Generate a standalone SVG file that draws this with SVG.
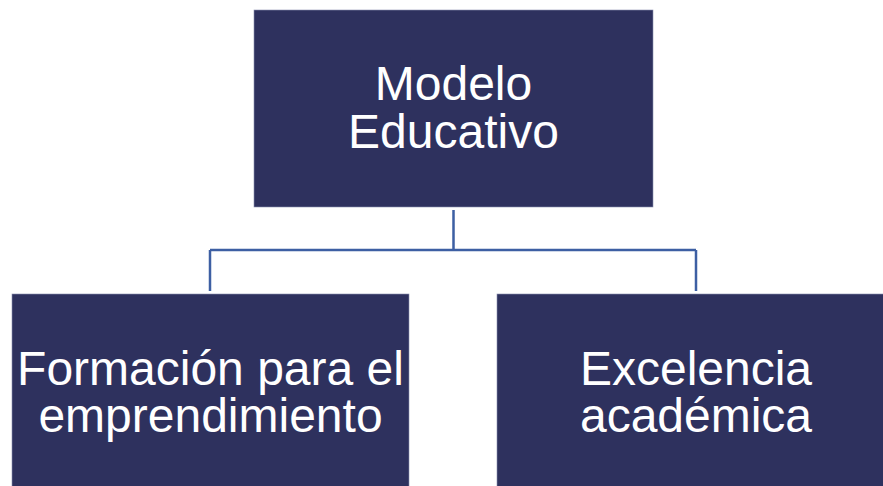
<svg xmlns="http://www.w3.org/2000/svg" width="883" height="486" viewBox="0 0 883 486">
<style>
.box{fill:#2E315E;stroke:#8A8FB0;stroke-width:0.6}
.lbl{fill:#FFFFFF;font-family:"Liberation Sans",Arial,sans-serif;font-size:48px;text-anchor:middle}
.conn{fill:none;stroke:#3D5FA3;stroke-width:2.5}
</style>
<rect width="883" height="486" fill="#FFFFFF"/>
<g id="connectors">
<path class="conn" d="M453.5,210 V250 M210,250 H696 M210,250 V291 M696,250 V291"/>
</g>
<g id="node-modelo">
<rect class="box" x="254" y="10" width="399" height="197"/>
<text class="lbl" x="453.5" y="100">Modelo</text>
<text class="lbl" x="453.5" y="148">Educativo</text>
</g>
<g id="node-formacion">
<rect class="box" x="12" y="294" width="397" height="195"/>
<text class="lbl" x="210.5" y="385">Formación para el</text>
<text class="lbl" x="210.5" y="432">emprendimiento</text>
</g>
<g id="node-excelencia">
<rect class="box" x="497" y="294" width="398" height="195"/>
<text class="lbl" x="696" y="385">Excelencia</text>
<text class="lbl" x="696" y="432">académica</text>
</g>
</svg>
